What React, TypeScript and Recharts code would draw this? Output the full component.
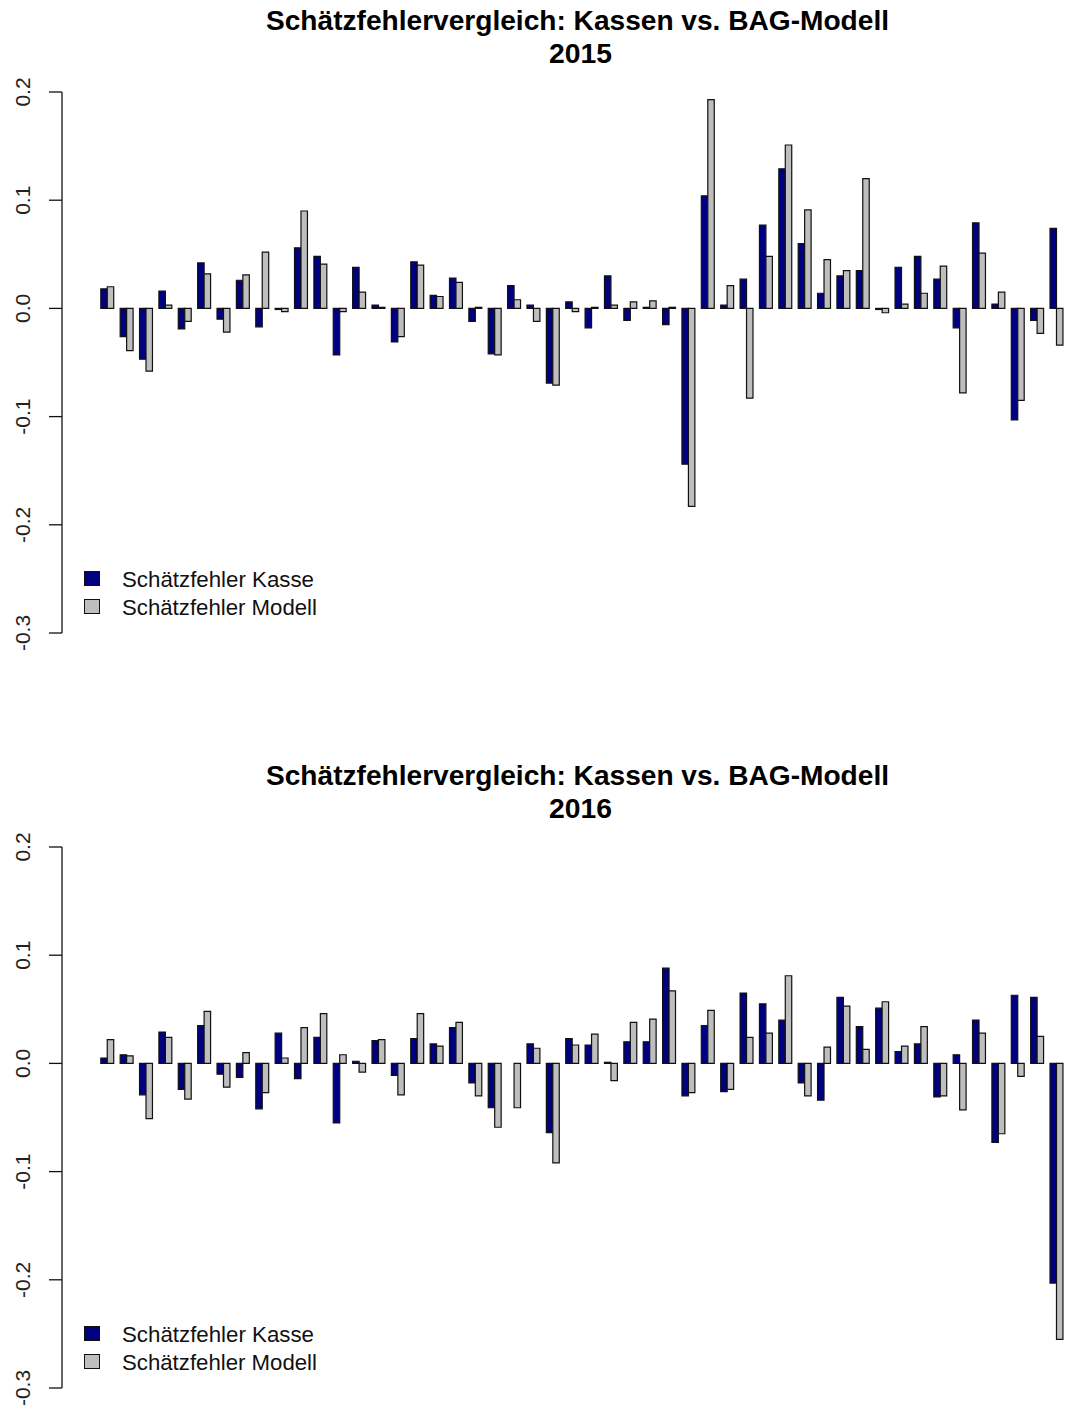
import React from 'react';
import { BarChart, Bar, XAxis, YAxis } from 'recharts';

// values, one entry per group (50 groups per year)
const kasse2015 = [
  0.018, -0.026, -0.047, 0.016, -0.019, 0.042, -0.010, 0.026, -0.017, -0.001,
  0.056, 0.048, -0.043, 0.038, 0.003, -0.031, 0.043, 0.012, 0.028, -0.012,
  -0.042, 0.021, 0.003, -0.069, 0.006, -0.018, 0.030, -0.011, 0.001, -0.015,
  -0.144, 0.104, 0.003, 0.027, 0.077, 0.129, 0.060, 0.014, 0.030, 0.035,
  -0.001, 0.038, 0.048, 0.027, -0.018, 0.079, 0.004, -0.103, -0.011, 0.074,
];
const modell2015 = [
  0.020, -0.039, -0.058, 0.003, -0.012, 0.032, -0.022, 0.031, 0.052, -0.003,
  0.090, 0.041, -0.003, 0.015, 0.001, -0.026, 0.040, 0.011, 0.024, 0.001,
  -0.043, 0.008, -0.012, -0.071, -0.003, 0.001, 0.003, 0.006, 0.007, 0.001,
  -0.183, 0.193, 0.021, -0.083, 0.048, 0.151, 0.091, 0.045, 0.035, 0.120,
  -0.004, 0.004, 0.014, 0.039, -0.078, 0.051, 0.015, -0.085, -0.023, -0.034,
];
const kasse2016 = [
  0.005, 0.008, -0.029, 0.029, -0.024, 0.035, -0.010, -0.013, -0.042, 0.028,
  -0.014, 0.024, -0.055, 0.002, 0.021, -0.011, 0.023, 0.018, 0.033, -0.018,
  -0.041, 0.000, 0.018, -0.064, 0.023, 0.017, 0.001, 0.020, 0.020, 0.088,
  -0.030, 0.035, -0.026, 0.065, 0.055, 0.040, -0.018, -0.034, 0.061, 0.034,
  0.051, 0.011, 0.018, -0.031, 0.008, 0.040, -0.073, 0.063, 0.061, -0.203,
];
const modell2016 = [
  0.022, 0.007, -0.051, 0.024, -0.033, 0.048, -0.022, 0.010, -0.027, 0.005,
  0.033, 0.046, 0.008, -0.008, 0.022, -0.029, 0.046, 0.016, 0.038, -0.030,
  -0.059, -0.041, 0.014, -0.092, 0.017, 0.027, -0.016, 0.038, 0.041, 0.067,
  -0.027, 0.049, -0.024, 0.024, 0.028, 0.081, -0.030, 0.015, 0.053, 0.013,
  0.057, 0.016, 0.034, -0.030, -0.043, 0.028, -0.065, -0.012, 0.025, -0.255,
];

const yTicks = [-0.3, -0.2, -0.1, 0, 0.1, 0.2];
const tickLabels = ['-0.3', '-0.2', '-0.1', '0.0', '0.1', '0.2'];
const titleText = 'Schätzfehlervergleich: Kassen vs. BAG-Modell';
const legendLabels = ['Schätzfehler Kasse', 'Schätzfehler Modell'];

const BLUE = '#000080';
const GRAY = '#bebebe';
const INK = '#111';
const FONT = '"Liberation Sans", Arial, sans-serif';

const YTick = (props: any) => {
  const { y, payload } = props;
  const i = yTicks.indexOf(payload.value);
  const label = i >= 0 ? tickLabels[i] : String(payload.value);
  return (
    <text
      x={30}
      y={y}
      transform={`rotate(-90, 30, ${y})`}
      textAnchor="middle"
      fontSize={21}
      fontFamily={FONT}
      fill="#222"
    >
      {label}
    </text>
  );
};

const Panel = ({ year, kasse, modell }: { year: string; kasse: number[]; modell: number[] }) => {
  const data = kasse.map((k, i) => ({ idx: i + 1, kasse: k, modell: modell[i] }));
  return (
    <div style={{ position: 'relative', width: 1065, height: 755, overflow: 'hidden' }}>
      <BarChart
        width={1070}
        height={755}
        data={data}
        margin={{ top: 92, right: 3.6, bottom: 122, left: 0 }}
        barSize={6.46}
        barGap={0}
      >
        <XAxis dataKey="idx" hide padding={{ left: 35.8, right: 0 }} />
        <YAxis
          domain={[-0.3, 0.2]}
          ticks={yTicks}
          allowDataOverflow
          width={62}
          tickSize={13}
          tick={<YTick />}
          axisLine={{ stroke: INK, strokeWidth: 1.3 }}
          tickLine={{ stroke: INK, strokeWidth: 1.3 }}
        />
        <Bar dataKey="kasse" fill={BLUE} stroke={INK} strokeWidth={1.2} isAnimationActive={false} />
        <Bar dataKey="modell" fill={GRAY} stroke={INK} strokeWidth={1.2} isAnimationActive={false} />
      </BarChart>
      <svg
        width={1065}
        height={755}
        style={{ position: 'absolute', left: 0, top: 0, pointerEvents: 'none' }}
      >
        <text
          x={577.5}
          y={30}
          textAnchor="middle"
          fontSize={27}
          fontWeight="bold"
          fontFamily={FONT}
          fill="#000"
          textLength={623}
          lengthAdjust="spacingAndGlyphs"
        >
          {titleText}
        </text>
        <text
          x={580.5}
          y={63}
          textAnchor="middle"
          fontSize={27}
          fontWeight="bold"
          fontFamily={FONT}
          fill="#000"
          textLength={63}
          lengthAdjust="spacingAndGlyphs"
        >
          {year}
        </text>
        {legendLabels.map((label, i) => (
          <g key={label}>
            <rect
              x={84.5}
              y={571.5 + i * 28}
              width={15}
              height={14}
              fill={i === 0 ? BLUE : GRAY}
              stroke={INK}
              strokeWidth={1}
            />
            <text
              x={122}
              y={587 + i * 27.5}
              fontSize={22}
              fontFamily={FONT}
              fill="#111"
              textLength={i === 0 ? 192 : 195}
              lengthAdjust="spacingAndGlyphs"
            >
              {label}
            </text>
          </g>
        ))}
      </svg>
    </div>
  );
};

export default function App() {
  return (
    <div
      style={{
        position: 'absolute',
        left: 0,
        top: 0,
        width: 1065,
        height: 1412,
        overflow: 'hidden',
        background: '#fff',
      }}
    >
      <Panel year="2015" kasse={kasse2015} modell={modell2015} />
      <Panel year="2016" kasse={kasse2016} modell={modell2016} />
    </div>
  );
}
